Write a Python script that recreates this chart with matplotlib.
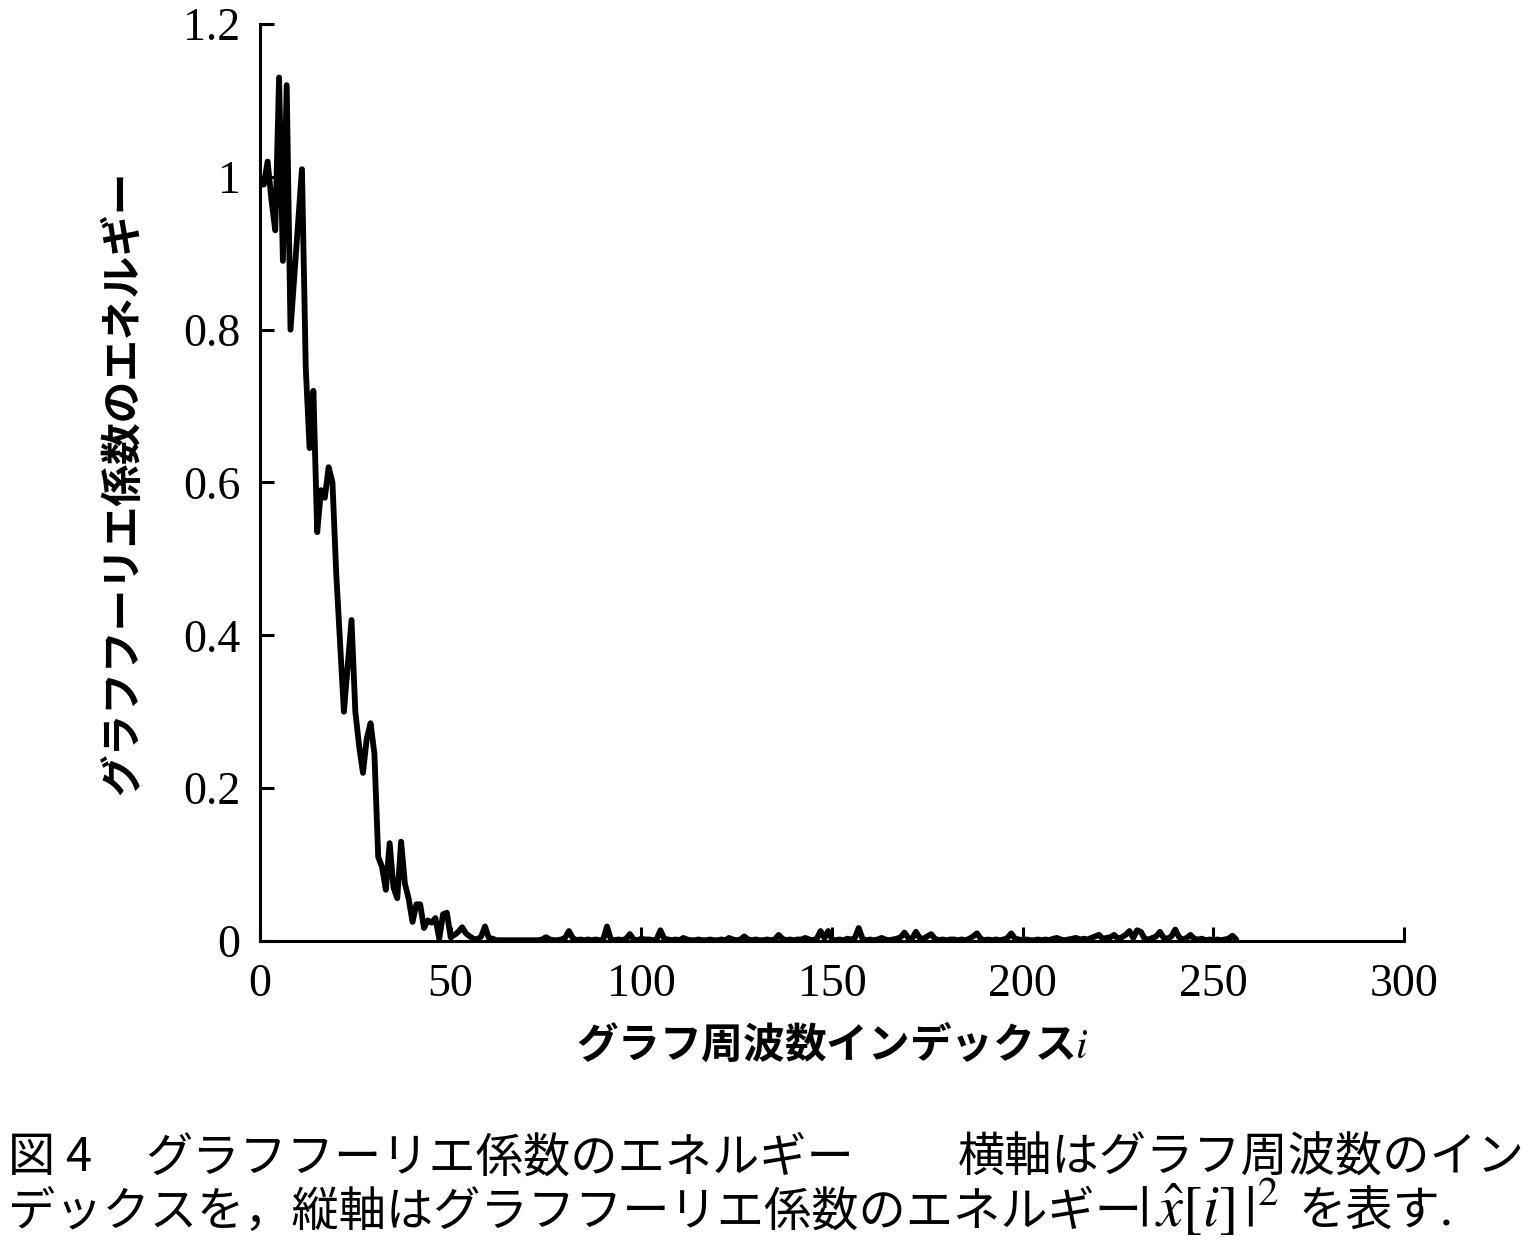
import numpy as np
import matplotlib
matplotlib.use("Agg")
import matplotlib.pyplot as plt

plt.rcParams["font.family"] = ["Noto Sans CJK JP", "DejaVu Sans"]
plt.rcParams["mathtext.fontset"] = "stix"

# energy |x^[i]|^2, one value per graph frequency index
energy_head = [
    0.99, 0.99, 1.02, 0.97, 0.93, 1.13, 0.89, 1.12, 0.80, 0.87,
    0.94, 1.01, 0.75, 0.645, 0.72, 0.535, 0.59, 0.58, 0.62, 0.60,
    0.48, 0.39, 0.30, 0.36, 0.42, 0.30, 0.255, 0.22, 0.265, 0.285,
    0.245, 0.11, 0.097, 0.067, 0.128, 0.07, 0.056, 0.13, 0.075, 0.055,
    0.025, 0.048, 0.048, 0.017, 0.027, 0.024, 0.03, 0.003, 0.035, 0.037,
    0.005, 0.008, 0.012, 0.018, 0.01, 0.006, 0.003, 0.002, 0.006, 0.019,
]
energy_tail = [
    0.004, 0.003, 0.001, 0.001, 0.001, 0.001, 0.001, 0.001, 0.001, 0.001,
    0.001, 0.001, 0.001, 0.001, 0.002, 0.005, 0.002, 0.001, 0.001, 0.002,
    0.004, 0.013, 0.004, 0.001, 0.002, 0.001, 0.002, 0.001, 0.002, 0.001,
    0.002, 0.019, 0.002, 0.001, 0.002, 0.001, 0.003, 0.009, 0.002, 0.001,
    0.003, 0.002, 0.002, 0.001, 0.002, 0.014, 0.003, 0.002, 0.001, 0.002,
    0.001, 0.004, 0.002, 0.001, 0.001, 0.002, 0.001, 0.001, 0.002, 0.001,
    0.001, 0.002, 0.001, 0.004, 0.002, 0.001, 0.002, 0.006, 0.002, 0.001,
    0.002, 0.001, 0.001, 0.002, 0.001, 0.002, 0.008, 0.003, 0.001, 0.002,
    0.001, 0.002, 0.002, 0.004, 0.002, 0.001, 0.003, 0.013, 0.004, 0.013,
    0.002, 0.001, 0.002, 0.001, 0.003, 0.002, 0.004, 0.017, 0.003, 0.001,
    0.002, 0.001, 0.002, 0.004, 0.002, 0.001, 0.002, 0.003, 0.005, 0.011,
    0.004, 0.003, 0.012, 0.004, 0.003, 0.006, 0.009, 0.003, 0.001, 0.002,
    0.001, 0.002, 0.002, 0.001, 0.002, 0.001, 0.003, 0.006, 0.010, 0.003,
    0.001, 0.002, 0.001, 0.002, 0.001, 0.002, 0.004, 0.010, 0.003, 0.002,
    0.001, 0.002, 0.001, 0.001, 0.002, 0.001, 0.002, 0.001, 0.003, 0.004,
    0.002, 0.001, 0.002, 0.003, 0.004, 0.002, 0.003, 0.002, 0.004, 0.006,
    0.008, 0.003, 0.004, 0.005, 0.008, 0.003, 0.005, 0.008, 0.013, 0.004,
    0.014, 0.012, 0.003, 0.002, 0.004, 0.006, 0.012, 0.004, 0.003, 0.006,
    0.015, 0.005, 0.002, 0.004, 0.008, 0.003, 0.002, 0.003, 0.001, 0.002,
    0.001, 0.002, 0.001, 0.002, 0.003, 0.007, 0.002,
]
energy = np.array(energy_head + energy_tail)
index = np.arange(len(energy))

x_ticks = [0, 50, 100, 150, 200, 250, 300]
y_ticks = [0, 0.2, 0.4, 0.6, 0.8, 1.0, 1.2]
y_tick_labels = ["0", "0.2", "0.4", "0.6", "0.8", "1", "1.2"]

x_label = "グラフ周波数インデックス$i$"
y_label = "グラフフーリエ係数のエネルギー"
caption_1 = ["図 4", "グラフフーリエ係数のエネルギー", "横軸はグラフ周波数のイン"]
caption_2 = ["デックスを，縦軸はグラフフーリエ係数のエネルギー",
             r"$|\,\hat{x}[i]\,|^2$", "を表す."]

W, H = 1539, 1245
fig = plt.figure(figsize=(W / 100, H / 100), dpi=100)
ax = fig.add_axes([260 / W, 1 - 941 / H, (1404 - 260) / W, (941 - 24) / H])

ax.plot(index, energy, color="black", linewidth=4.2,
        solid_joinstyle="round", solid_capstyle="round")

ax.set_xlim(0, 300)
ax.set_ylim(0, 1.2)
ax.set_xticks(x_ticks)
ax.set_yticks(y_ticks)
ax.set_yticklabels(y_tick_labels)
for s in ["top", "right"]:
    ax.spines[s].set_visible(False)
for s in ["left", "bottom"]:
    ax.spines[s].set_linewidth(2.2)
ax.tick_params(direction="in", length=10, width=2.2, labelsize=33)
ax.tick_params(axis="y", pad=14)
ax.tick_params(axis="x", pad=16)
for lab in ax.get_xticklabels() + ax.get_yticklabels():
    lab.set_fontfamily("Liberation Serif")

ax.set_xlabel(x_label, fontsize=30, fontweight="bold", labelpad=12)
ax.set_ylabel(y_label, fontsize=30, fontweight="bold", labelpad=28)

# caption below the chart
cap_size = 34
fig.text(8 / W, 1 - 1158 / H, caption_1[0], fontsize=cap_size, va="center")
fig.text(145 / W, 1 - 1158 / H, caption_1[1], fontsize=cap_size, va="center")
fig.text(958 / W, 1 - 1158 / H, caption_1[2], fontsize=cap_size, va="center")
fig.text(8 / W, 1 - 1213 / H, caption_2[0], fontsize=cap_size, va="center")
fig.text(1138 / W, 1 - 1210 / H, caption_2[1], fontsize=42, va="center")
fig.text(1298 / W, 1 - 1213 / H, caption_2[2], fontsize=cap_size, va="center")

fig.savefig("out.png", dpi=100)
